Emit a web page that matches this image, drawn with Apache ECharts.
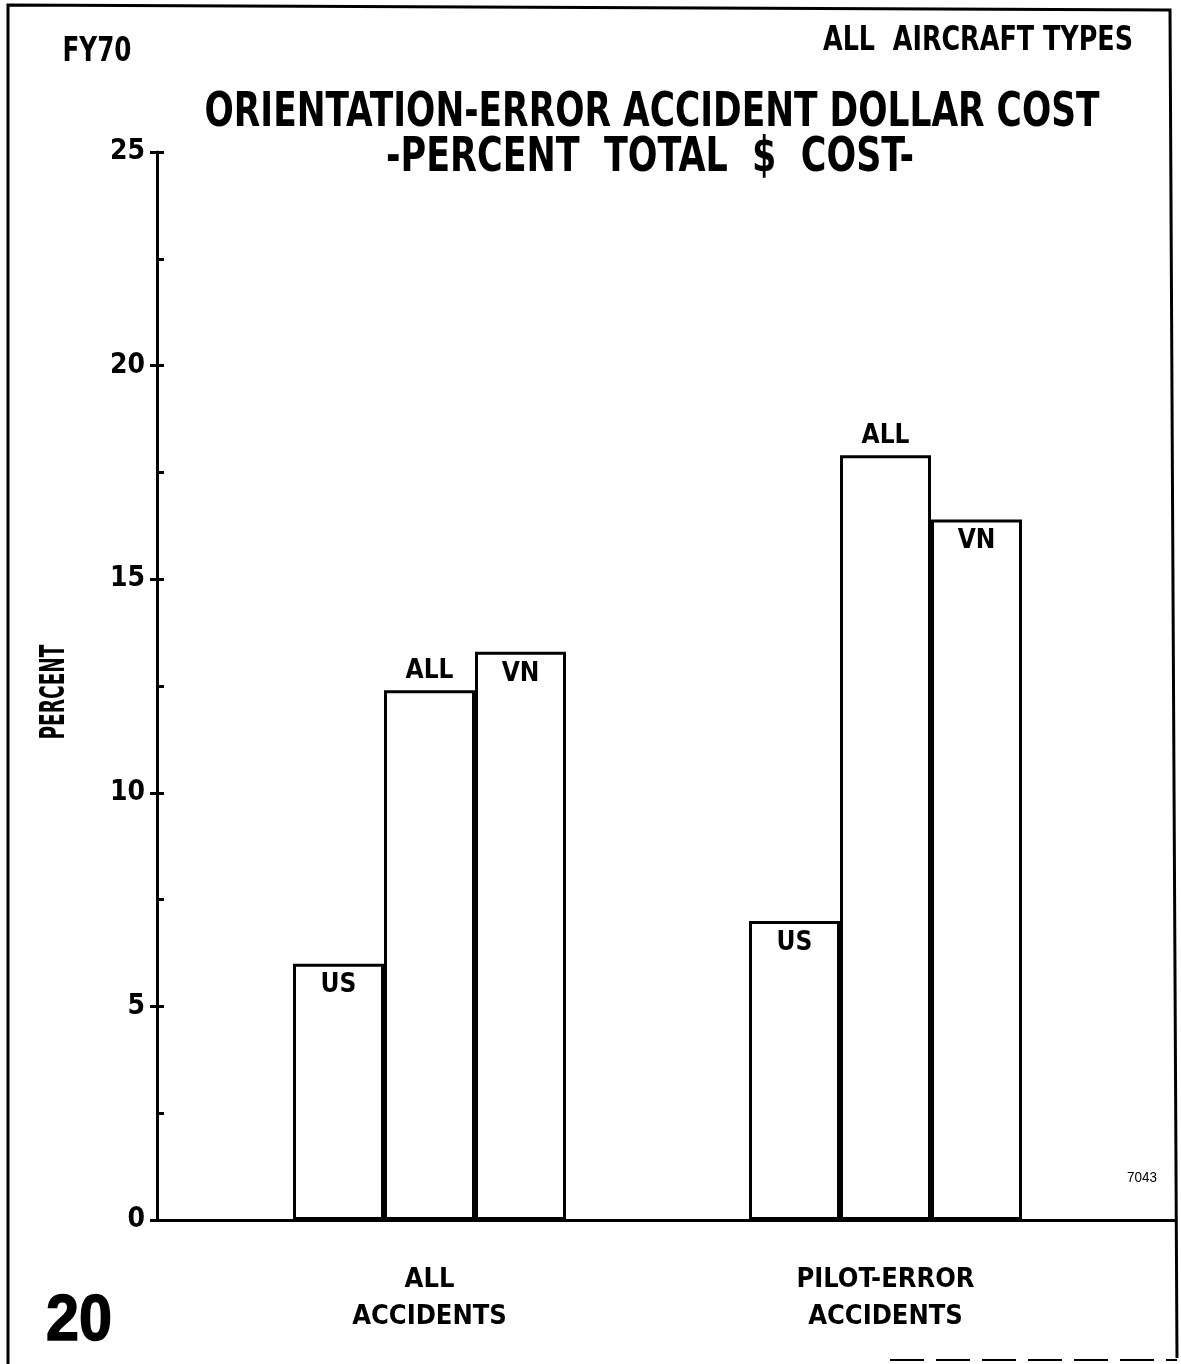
<!DOCTYPE html>
<html>
<head>
<meta charset="utf-8">
<style>
  html, body { margin: 0; padding: 0; background: #fff; }
  #chart { width: 1181px; height: 1364px; }
</style>
<script src="https://cdn.jsdelivr.net/npm/echarts@6/dist/echarts.min.js"></script>
</head>
<body>
<div id="chart"></div>
<script>
// Accident groups and the share (%) of total dollar cost per region
const categories = ['ALL\nACCIDENTS', 'PILOT-ERROR\nACCIDENTS'];
const seriesNames = ['US', 'ALL', 'VN'];
const usValues = [6.0, 7.0];
const allValues = [12.4, 17.9];
const vnValues = [13.3, 16.4];
const yMin = 0;
const yMax = 25;
const yInterval = 5;

const NARROW = '"Liberation Sans Narrow", "DejaVu Sans Condensed", sans-serif';
const INK = '#000';

// horizontal scale needed so a string fits a given width
function fitScale(text, font, width) {
  const ctx = document.createElement('canvas').getContext('2d');
  ctx.font = font;
  return width / ctx.measureText(text).width;
}

function fittedText(text, font, cx, cy, width, extra, styleExtra) {
  const s = fitScale(text, font, width);
  return Object.assign({
    type: 'text',
    x: cx, y: cy,
    scaleX: s,
    style: Object.assign({ text: text, font: font, fill: INK, align: 'center', verticalAlign: 'middle' }, styleExtra || {})
  }, extra || {});
}

const chart = echarts.init(document.getElementById('chart'), null, { renderer: 'canvas' });

const barLabel = (pos) => ({
  show: true,
  position: pos,
  distance: pos === 'top' ? 6 : 9,
  formatter: '{a}',
  color: INK,
  fontFamily: NARROW,
  fontWeight: 'bold',
  fontSize: 26
});

const barStyle = { color: '#fff', borderColor: INK, borderWidth: 3 };

const titleFont = 'bold 48px ' + NARROW;
const headFont = 'bold 34px ' + NARROW;

const option = {
  animation: false,
  backgroundColor: '#fff',
  grid: [
    { left: 157, right: 6, top: 152, bottom: 144 },
    { left: 201.5, right: 67.5, top: 152, bottom: 144 }
  ],
  xAxis: [
    {
      gridIndex: 0, type: 'value', min: 0, max: 1,
      axisLine: { show: true, lineStyle: { color: INK, width: 3 } },
      axisTick: { show: false }, axisLabel: { show: false }, splitLine: { show: false }
    },
    {
      gridIndex: 1, type: 'category', data: categories,
      axisLine: { show: false }, axisTick: { show: false },
      axisLabel: {
        margin: 41, color: INK, fontFamily: NARROW, fontWeight: 'bold',
        fontSize: 27, lineHeight: 37
      }
    }
  ],
  yAxis: [
    {
      gridIndex: 0, type: 'value', position: 'left', min: yMin, max: yMax, interval: yInterval,
      axisLine: { show: true, lineStyle: { color: INK, width: 3 } },
      axisTick: { show: true, length: 7, lineStyle: { color: INK, width: 3 } },
      axisLabel: { margin: 12, color: INK, fontFamily: NARROW, fontWeight: 'bold', fontSize: 28 },
      splitLine: { show: false }
    },
    {
      // inner half of the crossing ticks plus the half-step ticks
      gridIndex: 0, type: 'value', position: 'left', offset: 0,
      min: yMin, max: yMax, interval: yInterval,
      axisLine: { show: false },
      axisTick: { show: true, inside: true, length: 7, lineStyle: { color: INK, width: 3 } },
      minorTick: { show: true, splitNumber: 2, length: 7, lineStyle: { color: INK, width: 3 } },
      axisLabel: { show: false }, splitLine: { show: false }
    },
    {
      gridIndex: 1, type: 'value', min: yMin, max: yMax, show: false, splitLine: { show: false }
    }
  ],
  series: [
    { name: seriesNames[0], type: 'bar', xAxisIndex: 1, yAxisIndex: 2, data: usValues,
      barWidth: 91, barGap: '0%', itemStyle: barStyle, label: barLabel('insideTop') },
    { name: seriesNames[1], type: 'bar', xAxisIndex: 1, yAxisIndex: 2, data: allValues,
      barWidth: 91, barGap: '0%', itemStyle: barStyle, label: barLabel('top') },
    { name: seriesNames[2], type: 'bar', xAxisIndex: 1, yAxisIndex: 2, data: vnValues,
      barWidth: 91, barGap: '0%', itemStyle: barStyle, label: barLabel('insideTop') }
  ],
  graphic: [
    // page frame
    { type: 'polyline', shape: { points: [[8, 1364], [8, 5], [1170, 10], [1177, 1358]] },
      style: { stroke: INK, lineWidth: 3, fill: null } },
    { type: 'line', shape: { x1: 890, y1: 1360, x2: 1177, y2: 1360 },
      style: { stroke: INK, lineWidth: 2, lineDash: [34, 12] } },
    // headings
    fittedText('FY70', headFont, 97, 52, 69),
    fittedText('ALL  AIRCRAFT TYPES', headFont, 978, 41, 310),
    fittedText('ORIENTATION-ERROR ACCIDENT DOLLAR COST', titleFont, 652, 114, 895),
    fittedText('-PERCENT  TOTAL  $  COST-', titleFont, 650, 159, 528),
    // axis title, rotated
    fittedText('PERCENT', 'bold 34px ' + NARROW, 55, 692, 95, { rotation: Math.PI / 2 }),
    // page number and drawing number
    fittedText('20', 'bold 64px "Liberation Sans", "DejaVu Sans", sans-serif', 79, 1322, 66, null,
      { stroke: INK, lineWidth: 1.5 }),
    fittedText('7043', '14px "Liberation Sans", sans-serif', 1142, 1178, 30)
  ]
};

chart.setOption(option);
</script>
</body>
</html>
